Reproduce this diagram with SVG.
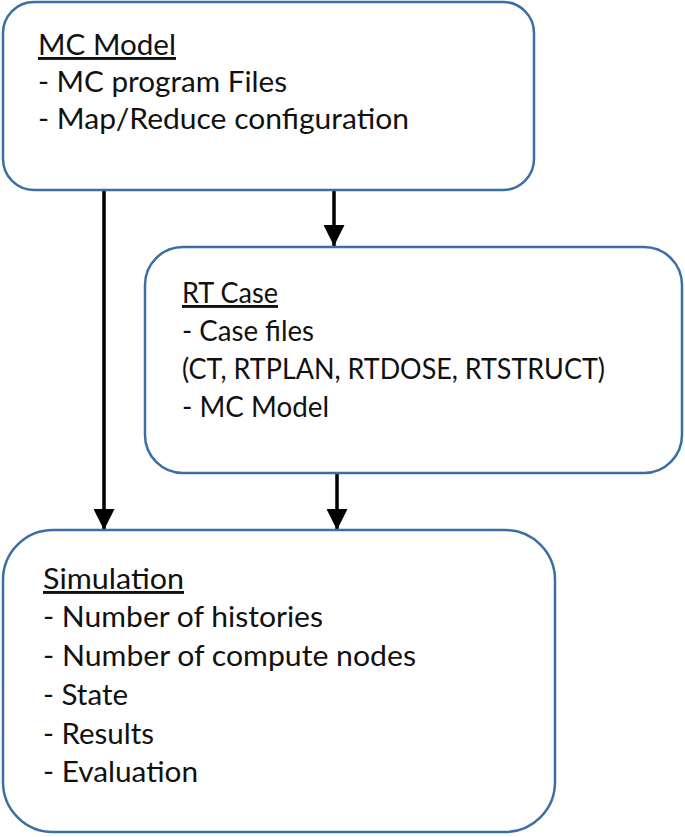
<svg xmlns="http://www.w3.org/2000/svg" width="685" height="837" viewBox="0 0 685 837">
<defs>
<style>
.box{fill:#fff;stroke:#3a6ea5;stroke-width:2.5}
.t{font-family:Lato,"Liberation Sans",sans-serif;font-size:29px;fill:#111}
.u{text-decoration:underline}
.c{stroke:#000;stroke-width:3.5;fill:none}
</style>
<marker id="ah" viewBox="0 0 10 10" refX="10" refY="5" markerUnits="userSpaceOnUse" markerWidth="21" markerHeight="21" orient="auto">
<path d="M0,0 L10,5 L0,10 Z" fill="#000"/>
</marker>
</defs>
<g id="connectors">
<line class="c" x1="104" y1="191" x2="104" y2="530" marker-end="url(#ah)"/>
<line class="c" x1="334" y1="191" x2="334" y2="246" marker-end="url(#ah)"/>
<line class="c" x1="337" y1="474" x2="337" y2="530" marker-end="url(#ah)"/>
</g>
<g id="mc-model">
<rect class="box" x="3" y="2" width="531" height="188" rx="31" ry="31"/>
<text class="t u" x="38" y="55" textLength="138" lengthAdjust="spacingAndGlyphs">MC Model</text>
<text class="t" x="38" y="92" textLength="249" lengthAdjust="spacingAndGlyphs">- MC program Files</text>
<text class="t" x="38" y="129" textLength="371" lengthAdjust="spacingAndGlyphs">- Map/Reduce configuration</text>
</g>
<g id="rt-case">
<rect class="box" x="145" y="247" width="537" height="226" rx="38" ry="38"/>
<text class="t u" x="182" y="303" textLength="96" lengthAdjust="spacingAndGlyphs">RT Case</text>
<text class="t" x="182" y="341" textLength="132" lengthAdjust="spacingAndGlyphs">- Case files</text>
<text class="t" x="182" y="379" textLength="423" lengthAdjust="spacingAndGlyphs">(CT, RTPLAN, RTDOSE, RTSTRUCT)</text>
<text class="t" x="182" y="417" textLength="147" lengthAdjust="spacingAndGlyphs">- MC Model</text>
</g>
<g id="simulation">
<rect class="box" x="3" y="530" width="552" height="302" rx="50" ry="50"/>
<text class="t u" x="43" y="589" textLength="141" lengthAdjust="spacingAndGlyphs">Simulation</text>
<text class="t" x="43" y="627" textLength="280" lengthAdjust="spacingAndGlyphs">- Number of histories</text>
<text class="t" x="43" y="666" textLength="373" lengthAdjust="spacingAndGlyphs">- Number of compute nodes</text>
<text class="t" x="43" y="705" textLength="85" lengthAdjust="spacingAndGlyphs">- State</text>
<text class="t" x="43" y="744" textLength="111" lengthAdjust="spacingAndGlyphs">- Results</text>
<text class="t" x="43" y="782" textLength="155" lengthAdjust="spacingAndGlyphs">- Evaluation</text>
</g>
</svg>
